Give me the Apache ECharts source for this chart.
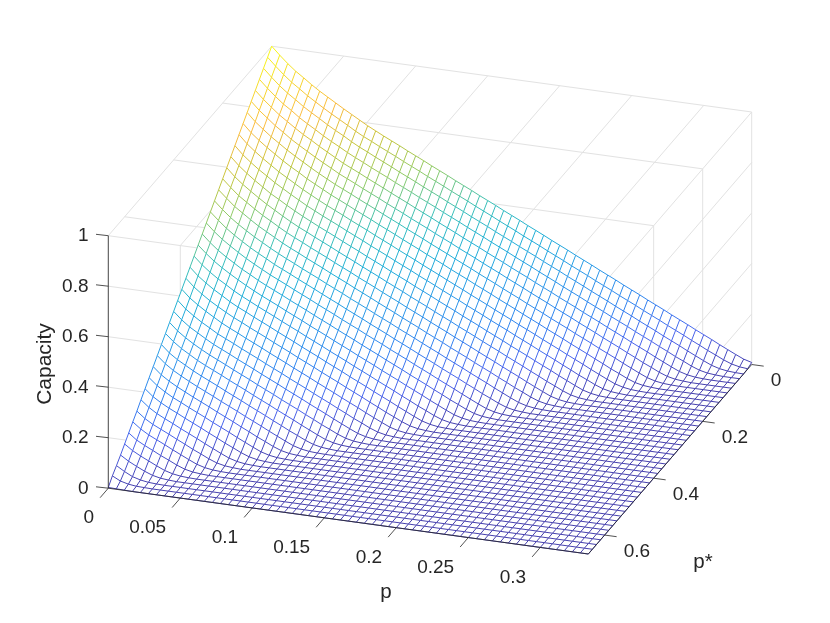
<!DOCTYPE html>
<html>
<head>
<meta charset="utf-8">
<style>html,body{margin:0;background:#fff}#chart{width:830px;height:623px}</style>
<script src="https://cdn.jsdelivr.net/npm/echarts@6/dist/echarts.min.js"></script>
</head>
<body>
<div id="chart"></div>
<script>
const pMax = 1 / 3;
const pStarMax = 2 / 3;
const pCells = 60;
const pStarCells = 40;
const pTicks = [0, 0.05, 0.1, 0.15, 0.2, 0.25, 0.3];
const pStarTicks = [0, 0.2, 0.4, 0.6];
const capacityTicks = [0, 0.2, 0.4, 0.6, 0.8, 1];
const parula = ['#4640ae', '#4a64ee', '#3084f0', '#2a9ae8', '#20b0d8', '#3ac0b8', '#8ecb68', '#c8c63c', '#fbbb40', '#f6da2e', '#f9fb15'];
// capacity x 1000, one row per p* step, trailing zeros left out
const capacityRows = [
[1000,969,940,914,892,869,848,829,810,791,773,755,737,721,705,690,675,659,644,629,613,598,583,567,552,537,521,506,491,475,460,445,429,414,399,383,368,353,337,322,307,291,276,261,245,230,215,199,184,169,153,138,123,107,92,77,61,46,31,17,8],
[975,944,915,889,867,844,824,804,785,767,749,730,713,698,682,667,652,636,621,606,590,575,560,544,529,514,498,483,468,452,437,422,406,391,376,360,345,330,314,299,284,268,253,238,222,207,192,176,161,146,130,115,100,84,69,53,39,24,12,5,2],
[950,919,890,865,843,820,800,781,761,743,726,707,690,675,659,644,629,613,598,583,567,552,537,521,506,491,475,460,445,429,414,399,383,368,353,337,322,307,291,276,261,245,230,215,199,184,169,153,138,123,107,92,77,61,46,31,17,8,3,1],
[925,894,866,840,819,795,775,756,736,718,701,683,667,652,636,621,606,590,575,560,544,529,514,498,483,468,452,437,422,406,391,376,360,345,330,314,299,284,268,253,238,222,207,192,176,161,146,130,115,100,84,69,53,39,24,12,5,2],
[900,869,842,816,794,772,751,733,713,695,677,659,644,629,613,598,583,567,552,537,521,506,491,475,460,445,429,414,399,383,368,353,337,322,307,291,276,261,245,230,215,199,184,169,153,138,123,107,92,77,61,46,31,17,8,3,1],
[875,844,818,792,770,747,727,708,689,671,654,636,621,606,590,575,560,544,529,514,498,483,468,452,437,422,406,391,376,360,345,330,314,299,284,268,253,238,222,207,192,176,161,146,130,115,100,84,69,53,39,24,12,5,2],
[850,818,792,767,745,723,703,684,665,647,630,613,598,583,567,552,537,521,506,491,475,460,445,429,414,399,383,368,353,337,322,307,291,276,261,245,230,215,199,184,169,153,138,123,107,92,77,61,46,31,17,8,3,1],
[825,793,767,743,721,699,679,661,641,624,607,590,575,560,544,529,514,498,483,468,452,437,422,406,391,376,360,345,330,314,299,284,268,253,238,222,207,192,176,161,146,130,115,100,84,69,53,39,24,12,5,2],
[800,768,742,718,696,674,655,636,617,600,583,567,552,537,521,506,491,475,460,445,429,414,399,383,368,353,337,322,307,291,276,261,245,230,215,199,184,169,153,138,123,107,92,77,61,46,31,17,8,3,1],
[775,743,717,693,672,650,631,612,594,576,560,544,529,514,498,483,468,452,437,422,406,391,376,360,345,330,314,299,284,268,253,238,222,207,192,176,161,146,130,115,100,84,69,53,39,24,12,5,2],
[750,719,693,669,647,625,607,588,570,553,537,521,506,491,475,460,445,429,414,399,383,368,353,337,322,307,291,276,261,245,230,215,199,184,169,153,138,123,107,92,77,61,46,31,17,8,3,1],
[725,694,668,645,623,602,583,564,546,529,514,498,483,468,452,437,422,406,391,376,360,345,330,314,299,284,268,253,238,222,207,192,176,161,146,130,115,100,84,69,53,39,24,12,5,2],
[700,670,642,620,598,577,559,540,522,506,491,475,460,445,429,414,399,383,368,353,337,322,307,291,276,261,245,230,215,199,184,169,153,138,123,107,92,77,61,46,31,17,8,3,1],
[675,646,618,596,574,553,535,517,499,483,468,452,437,422,406,391,376,360,345,330,314,299,284,268,253,238,222,207,192,176,161,146,130,115,100,84,69,53,39,24,12,5,2],
[650,620,593,570,549,529,511,493,476,460,445,429,414,399,383,368,353,337,322,307,291,276,261,245,230,215,199,184,169,153,138,123,107,92,77,61,46,31,17,8,3,1],
[625,596,569,546,525,505,487,470,452,437,422,406,391,376,360,345,330,314,299,284,268,253,238,222,207,192,176,161,146,130,115,100,84,69,53,39,24,12,5,2],
[600,570,544,522,501,481,463,446,429,414,399,383,368,353,337,322,307,291,276,261,245,230,215,199,184,169,153,138,123,107,92,77,61,46,31,17,8,3,1],
[575,545,519,497,477,457,440,422,406,391,376,360,345,330,314,299,284,268,253,238,222,207,192,176,161,146,130,115,100,84,69,53,39,24,12,5,2],
[550,521,495,473,453,434,416,399,383,368,353,337,322,307,291,276,261,245,230,215,199,184,169,153,138,123,107,92,77,61,46,31,17,8,3,1],
[525,495,470,448,429,409,392,376,360,345,330,314,299,284,268,253,238,222,207,192,176,161,146,130,115,100,84,69,53,39,24,12,5,2],
[500,470,446,424,405,385,368,353,337,322,307,291,276,261,245,230,215,199,184,169,153,138,123,107,92,77,61,46,31,17,8,3,1],
[475,445,421,399,380,362,345,330,314,299,284,268,253,238,222,207,192,176,161,146,130,115,100,84,69,53,39,24,12,5,2],
[450,420,397,376,357,338,322,307,291,276,261,245,230,215,199,184,169,153,138,123,107,92,77,61,46,31,17,8,3,1],
[425,395,372,351,333,314,299,284,268,253,238,222,207,192,176,161,146,130,115,100,84,69,53,39,24,12,5,2],
[400,371,347,328,309,291,276,261,245,230,215,199,184,169,153,138,123,107,92,77,61,46,31,17,8,3,1],
[375,346,323,303,285,268,253,238,222,207,192,176,161,146,130,115,100,84,69,53,39,24,12,5,2],
[350,322,299,280,261,245,230,215,199,184,169,153,138,123,107,92,77,61,46,31,17,8,3,1],
[325,296,274,256,238,222,207,192,176,161,146,130,115,100,84,69,53,39,24,12,5,2],
[300,272,250,232,215,199,184,169,153,138,123,107,92,77,61,46,31,17,8,3,1],
[275,247,226,208,192,176,161,146,130,115,100,84,69,53,39,24,12,5,2],
[250,223,202,184,169,153,138,123,107,92,77,61,46,31,17,8,3,1],
[225,198,178,161,146,130,115,100,84,69,53,39,24,12,5,2],
[200,174,154,138,123,107,92,77,61,46,31,17,8,3,1],
[174,149,130,115,100,84,69,53,39,24,12,5,2],
[150,126,107,92,77,61,46,31,17,8,3,1],
[125,101,84,69,53,39,24,12,5,2],
[100,78,61,46,31,17,8,3,1],
[75,55,39,24,12,5,2],
[52,33,17,8,3,1],
[30,14,6,2,1],
[3,2,1]
];

// orthographic view of the axes box: pixel offset of each axis over its full range
const floorOrigin = [108.3, 488.2];
const pSpan = [480, 65.8];
const pStarSpan = [163.4, -189.5];
const capacitySpan = [0, -252.5];
const inkColor = '#262626';
const gridColor = '#e2e2e2';
const fontFamily = '"Liberation Sans", Arial, sans-serif';

function project(p, pStar, capacity) {
    const a = p / pMax, b = (pStarMax - pStar) / pStarMax;
    return [
        floorOrigin[0] + a * pSpan[0] + b * pStarSpan[0] + capacity * capacitySpan[0],
        floorOrigin[1] + a * pSpan[1] + b * pStarSpan[1] + capacity * capacitySpan[1]
    ];
}

function capacityAt(i, j) {
    const v = capacityRows[j][i];
    return v === undefined ? 0 : v / 1000;
}
function vertex(i, j) {
    return project(i / pCells * pMax, j / pStarCells * pStarMax, capacityAt(i, j));
}

// surface cells and mesh edges
const cells = [];
const edges = [];
for (let j = 0; j <= pStarCells; j++) {
    for (let i = 0; i <= pCells; i++) {
        if (i < pCells && j < pStarCells) cells.push([vertex(i, j), vertex(i + 1, j), vertex(i + 1, j + 1), vertex(i, j + 1)]);
        if (i < pCells) edges.push([vertex(i, j), vertex(i + 1, j), (capacityAt(i, j) + capacityAt(i + 1, j)) / 2]);
        if (j < pStarCells) edges.push([vertex(i, j), vertex(i, j + 1), (capacityAt(i, j) + capacityAt(i, j + 1)) / 2]);
    }
}

// grid on the three back planes: the ceiling and the two walls
const gridLines = [];
pTicks.forEach(p => {
    gridLines.push([project(p, 0, 1), project(p, pStarMax, 1)]);
    gridLines.push([project(p, pStarMax, 0), project(p, pStarMax, 1)]);
});
pStarTicks.forEach(s => {
    gridLines.push([project(0, s, 1), project(pMax, s, 1)]);
    gridLines.push([project(pMax, s, 0), project(pMax, s, 1)]);
});
capacityTicks.forEach(c => {
    gridLines.push([project(0, pStarMax, c), project(pMax, pStarMax, c)]);
    gridLines.push([project(pMax, pStarMax, c), project(pMax, 0, c)]);
});

// axis lines, ticks and labels
const axisLines = [
    [project(0, pStarMax, 0), project(pMax, pStarMax, 0)],
    [project(pMax, pStarMax, 0), project(pMax, 0, 0)],
    [project(0, pStarMax, 0), project(0, pStarMax, 1)]
];
const texts = [];
pTicks.forEach(p => {
    const a = project(p, pStarMax, 0);
    const b = [a[0] - pStarSpan[0] * 0.05, a[1] - pStarSpan[1] * 0.05];
    axisLines.push([a, b]);
    texts.push({ text: String(p), pos: [b[0] - 6, b[1] + 20.5], align: 'right', size: 19 });
});
pStarTicks.forEach(s => {
    const a = project(pMax, s, 0);
    const b = [a[0] + pSpan[0] * 0.025, a[1] + pSpan[1] * 0.025];
    axisLines.push([a, b]);
    texts.push({ text: String(s), pos: [b[0] + 7, b[1] + 15], align: 'left', size: 19 });
});
capacityTicks.forEach(c => {
    const a = project(0, pStarMax, c);
    axisLines.push([a, [a[0] - 12.3, a[1] - 1.4]]);
    texts.push({ text: String(c), pos: [88.5, a[1] + 0.5], align: 'right', size: 19 });
});
texts.push({ text: 'p', pos: [386, 592], align: 'center', size: 20.5 });
texts.push({ text: 'p*', pos: [703, 562], align: 'center', size: 20.5 });
texts.push({ text: 'Capacity', pos: [45, 364], align: 'center', size: 21, rotation: Math.PI / 2 });

function segmentSeries(list, z, styleOf) {
    return {
        type: 'custom',
        coordinateSystem: 'cartesian2d',
        clip: false,
        silent: true,
        z: z,
        progressive: 0,
        animation: false,
        data: list.map((_, idx) => [idx, 0]),
        renderItem: (params, api) => {
            const seg = list[params.dataIndex];
            const a = api.coord(seg[0]), b = api.coord(seg[1]);
            return {
                type: 'line',
                shape: { x1: a[0], y1: a[1], x2: b[0], y2: b[1] },
                style: Object.assign({ fill: null }, styleOf(seg))
            };
        }
    };
}

const myChart = echarts.init(document.getElementById('chart'), null, { renderer: 'canvas' });
const option = {
    animation: false,
    backgroundColor: '#fff',
    grid: { left: 0, right: 0, top: 0, bottom: 0 },
    xAxis: { type: 'value', min: 0, max: 830, show: false },
    yAxis: { type: 'value', min: 0, max: 623, inverse: true, show: false },
    series: [
        segmentSeries(gridLines, 1, () => ({ stroke: gridColor, lineWidth: 1 })),
        {
            type: 'custom',
            coordinateSystem: 'cartesian2d',
            clip: false,
            silent: true,
            z: 2,
            progressive: 0,
            animation: false,
            data: cells.map((_, idx) => [idx, 0]),
            renderItem: (params, api) => ({
                type: 'polygon',
                shape: { points: cells[params.dataIndex].map(v => api.coord(v)) },
                style: { fill: '#fff', stroke: '#fff', lineWidth: 0.5 }
            })
        },
        segmentSeries(edges, 3, seg => ({ stroke: echarts.color.lerp(seg[2], parula), lineWidth: 1 })),
        segmentSeries(axisLines, 4, () => ({ stroke: inkColor, lineWidth: 0.8 })),
        {
            type: 'custom',
            coordinateSystem: 'cartesian2d',
            clip: false,
            silent: true,
            z: 5,
            animation: false,
            data: texts.map((_, idx) => [idx, 0]),
            renderItem: (params, api) => {
                const t = texts[params.dataIndex];
                const pos = api.coord(t.pos);
                return {
                    type: 'text',
                    x: pos[0],
                    y: pos[1],
                    rotation: t.rotation || 0,
                    style: {
                        text: t.text,
                        fill: inkColor,
                        font: t.size + 'px ' + fontFamily,
                        textAlign: t.align,
                        textVerticalAlign: 'middle'
                    }
                };
            }
        }
    ]
};
myChart.setOption(option);
</script>
</body>
</html>
